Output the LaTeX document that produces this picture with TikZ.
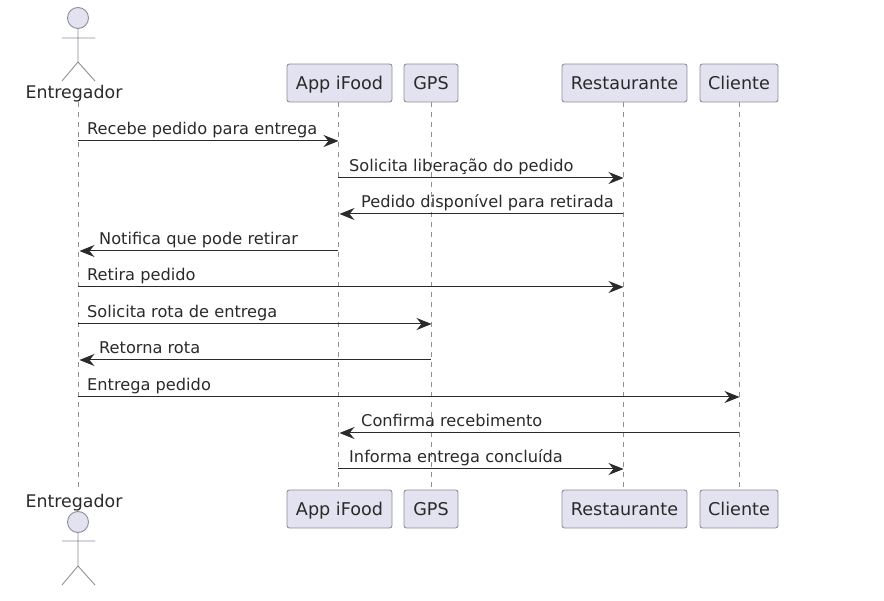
\documentclass[tikz,border=0pt]{standalone}
\usepackage{fontspec}
\setmainfont{DejaVu Sans}
\usetikzlibrary{arrows.meta}
\definecolor{partfill}{HTML}{E2E2F0}
\definecolor{partline}{HTML}{8F8F98}
\definecolor{txt}{HTML}{2A2A2A}
\tikzset{
  part/.style={draw=partline,fill=partfill,rounded corners=2.5pt,line width=0.9pt,minimum height=38pt,inner sep=0pt,text=txt,text height=14.6pt,text depth=2pt,font=\fontsize{17.6}{19}\selectfont},
  actorlabel/.style={text=txt,inner sep=0pt,anchor=base,font=\fontsize{17.4}{19}\selectfont},
  life/.style={draw=partline,line width=0.9pt,dash pattern=on 5pt off 5pt},
  msg/.style={draw=txt,line width=1pt,-{Stealth[length=15pt,width=12pt,inset=5pt]},shorten >=-0.5pt},
  msgback/.style={msg,shorten >=1.5pt},
  msgtext/.style={text=txt,inner sep=0pt,anchor=base west,font=\fontsize{16.2}{18}\selectfont},
  limb/.style={draw=partline,line width=0.9pt},
  head/.style={circle,draw=partline,fill=partfill,line width=0.9pt,minimum size=21pt,inner sep=0pt}
}
\begin{document}
\begin{tikzpicture}[x=1pt,y=-1pt]
\useasboundingbox (0,0) rectangle (884,601);
% participants
\node[part,minimum width=105pt] (appT) at (339.5,83) {App iFood};
\node[part,minimum width=54pt] (gpsT) at (431,83) {GPS};
\node[part,minimum width=125pt] (resT) at (624.5,83) {Restaurante};
\node[part,minimum width=78pt] (cliT) at (739,83) {Cliente};
\node[part,minimum width=105pt] (appB) at (339.5,509) {App iFood};
\node[part,minimum width=54pt] (gpsB) at (431,509) {GPS};
\node[part,minimum width=125pt] (resB) at (624.5,509) {Restaurante};
\node[part,minimum width=78pt] (cliB) at (739,509) {Cliente};
% lifeline anchors
\coordinate (E) at (78,102);
\coordinate (Eb) at (78,492);
\coordinate (A) at (338,102);
\coordinate (Ab) at (338,490);
\coordinate (G) at (431,102);
\coordinate (Gb) at (431,490);
\coordinate (R) at (623,102);
\coordinate (Rb) at (623,490);
\coordinate (C) at (739,102);
\coordinate (Cb) at (739,490);
\draw[life] (E) -- (Eb);
\draw[life] (A) -- (Ab);
\draw[life] (G) -- (Gb);
\draw[life] (R) -- (Rb);
\draw[life] (C) -- (Cb);
% actors
\node[head] (h1) at (78,18) {};
\draw[limb] (h1.south) -- (78,62) (62,38) -- (95,38) (62,81) -- (78,62) -- (95,81);
\node[head] (h2) at (78,522) {};
\draw[limb] (h2.south) -- (78,566) (62,541) -- (95,541) (62,585) -- (78,566) -- (95,585);
\node[actorlabel] (entT) at (74,99) {Entregador};
\node[actorlabel] (entB) at (74,507.2) {Entregador};
% messages
\foreach \nm/\yy in {m1/141,m2/178,m3/214,m4/251,m5/287,m6/324,m7/360,m8/397,m9/433,m10/469}{\coordinate (\nm) at (0,\yy);}
\draw[msg] (E |- m1) -- (A |- m1);
\draw[msg] (A |- m2) -- (R |- m2);
\draw[msgback] (R |- m3) -- (A |- m3);
\draw[msgback] (A |- m4) -- (E |- m4);
\draw[msg] (E |- m5) -- (R |- m5);
\draw[msg] (E |- m6) -- (G |- m6);
\draw[msgback] (G |- m7) -- (E |- m7);
\draw[msg] (E |- m8) -- (C |- m8);
\draw[msgback] (C |- m9) -- (A |- m9);
\draw[msg] (A |- m10) -- (R |- m10);
\node[msgtext] (t1) at (87,134.8) {Recebe pedido para entrega};
\node[msgtext] (t2) at (349,171.8) {Solicita liberação do pedido};
\node[msgtext] (t3) at (361,207.8) {Pedido disponível para retirada};
\node[msgtext] (t4) at (99,244.8) {Notifica que pode retirar};
\node[msgtext] (t5) at (87,280.8) {Retira pedido};
\node[msgtext] (t6) at (87,317.8) {Solicita rota de entrega};
\node[msgtext] (t7) at (99,353.8) {Retorna rota};
\node[msgtext] (t8) at (87,390.8) {Entrega pedido};
\node[msgtext] (t9) at (361,426.8) {Confirma recebimento};
\node[msgtext] (t10) at (349,462.8) {Informa entrega concluída};
\end{tikzpicture}
\end{document}
